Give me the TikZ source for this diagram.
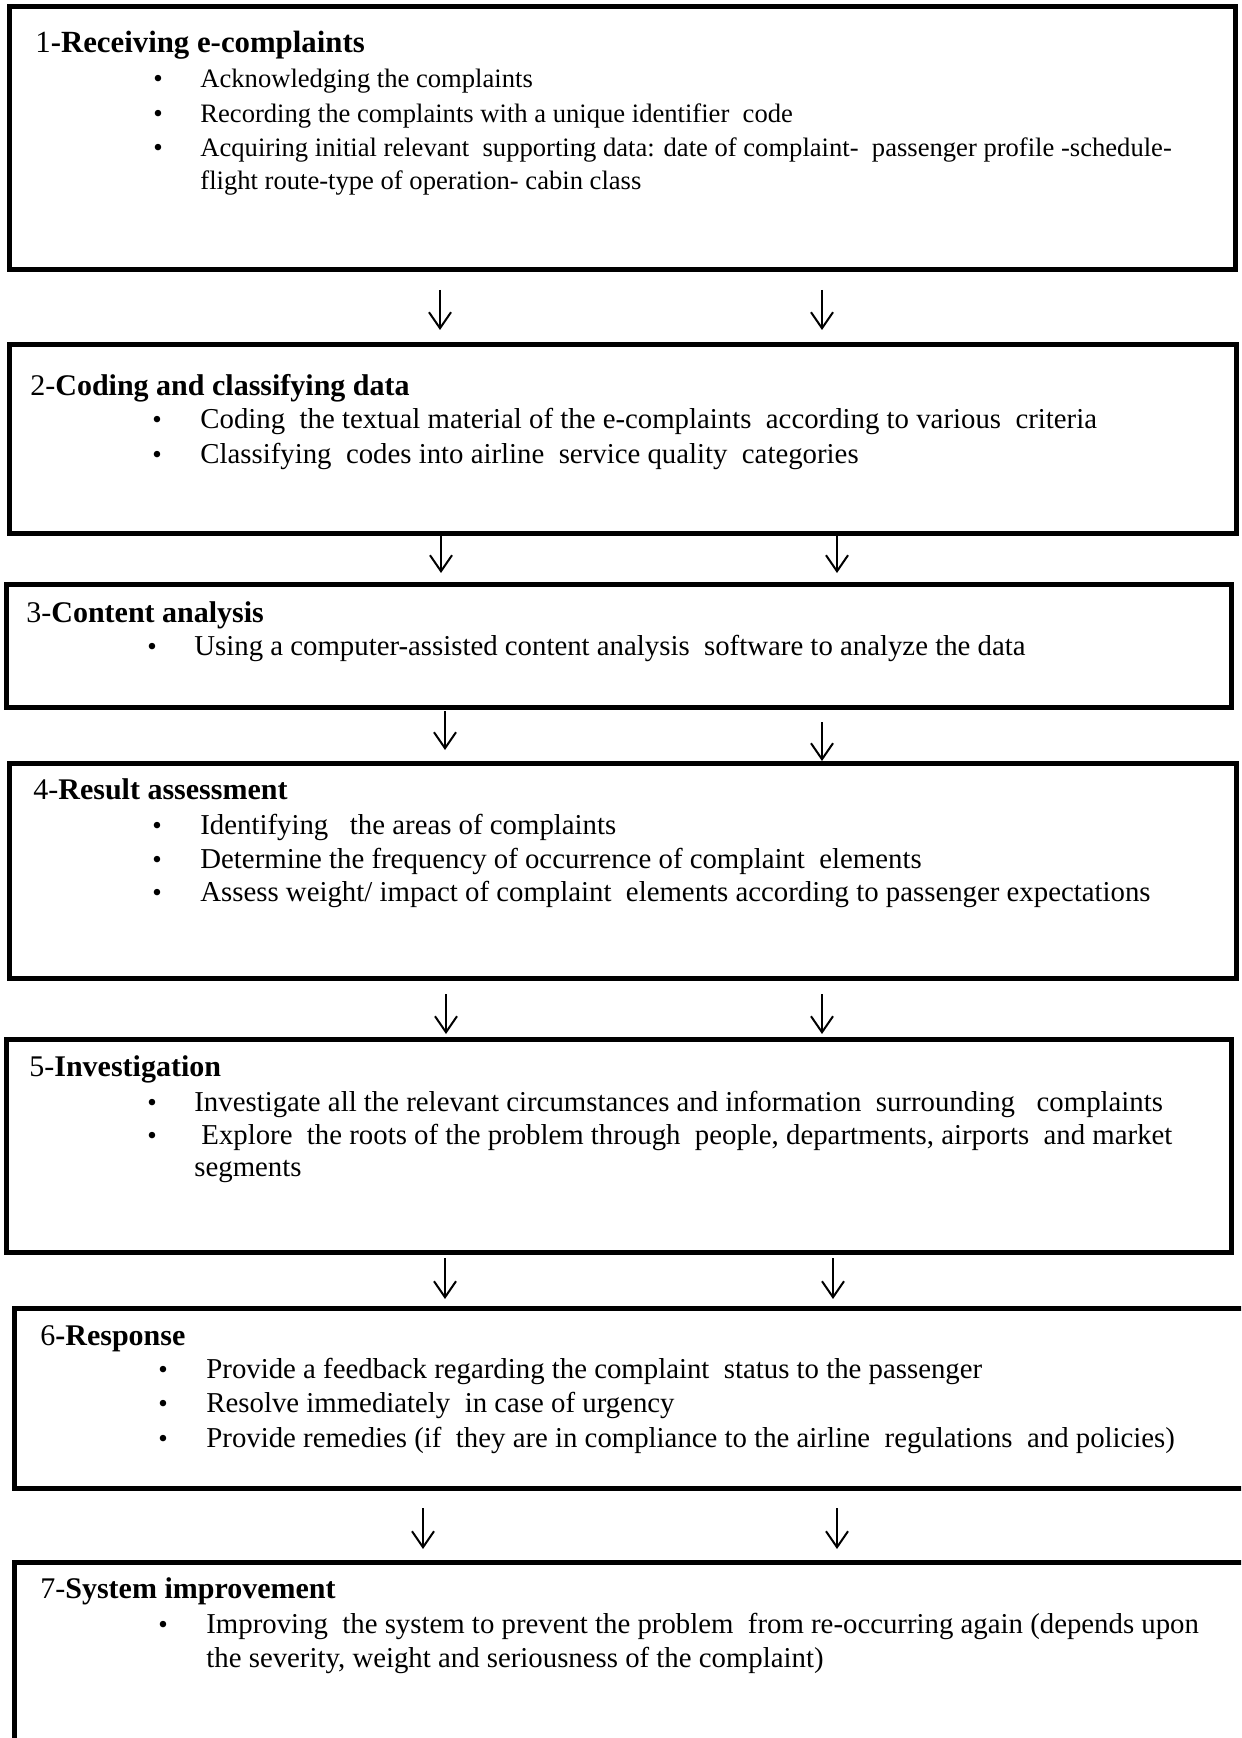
\documentclass[tikz,border=0pt]{standalone}
\usepackage{fontspec}
\setmainfont{Liberation Serif}
\usetikzlibrary{arrows.meta}
\tikzset{
  box/.style={draw, line width=2.5pt, anchor=north west, inner sep=0pt, outer sep=0pt},
  ttl/.style={anchor=base west, inner sep=0pt, font=\fontsize{15}{18}\selectfont},
  ttlA/.style={anchor=base west, inner sep=0pt, font=\fontsize{15.4}{18}\selectfont},
  txt/.style={anchor=base west, inner sep=0pt, font=\fontsize{14.4}{17}\selectfont},
  txtA/.style={anchor=base west, inner sep=0pt, font=\fontsize{13.3}{16}\selectfont},
  bul/.style={anchor=base west, inner sep=0pt, font=\fontsize{13.5}{16}\selectfont},
  arr/.style={-{Straight Barb[length=8pt,width=11pt]}, line width=1pt}
}
\begin{document}
\begin{tikzpicture}[x=0.5pt,y=-0.5pt]
\useasboundingbox (0,0) rectangle (1241,1738);
\clip (0,0) rectangle (1241,1738);
\fill[white] (0,0) rectangle (1241,1738);

% boxes
\node[box, minimum width=613pt, minimum height=131.5pt] (b1) at (9,7) {};
\node[box, minimum width=613.25pt, minimum height=94pt] (b2) at (9.5,345) {};
\node[box, minimum width=612.5pt, minimum height=61.5pt] (b3) at (6,584) {};
\node[box, minimum width=613.25pt, minimum height=107.5pt] (b4) at (9.5,763) {};
\node[box, minimum width=612.5pt, minimum height=106.5pt] (b5) at (6,1039) {};
\node[box, minimum width=618pt, minimum height=90pt] (b6) at (14,1308) {};
\node[box, minimum width=618pt, minimum height=99pt] (b7) at (14,1562) {};

% box 1
\node[ttlA] (h1) at (35,53) {1\textbf{-Receiving e-complaints}};
\node[bul] (p1a) at (153,88) {•};
\node[bul] (p1b) at (153,123) {•};
\node[bul] (p1c) at (153,157) {•};
\node[txtA] (t1a) at (200,88) {Acknowledging the complaints};
\node[txtA] (t1b) at (200,123) {Recording the complaints with a unique identifier\ \ code};
\node[txtA] (t1c) at (200,157) {Acquiring initial relevant\ \ supporting data: date of complaint-\ \ passenger profile -schedule-};
\node[txtA] (t1d) at (200,190) {flight route-type of operation- cabin class};

% box 2
\node[ttl] (h2) at (30,395) {2-\textbf{Coding and classifying data}};
\node[bul] (p2a) at (152,428) {•};
\node[bul] (p2b) at (152,463) {•};
\node[txt] (t2a) at (200,428) {Coding\ \ the textual material of the e-complaints\ \ according to various\ \ criteria};
\node[txt] (t2b) at (200,463) {Classifying\ \ codes into airline\ \ service quality\ \ categories};

% box 3
\node[ttl] (h3) at (26,622) {3-\textbf{Content analysis}};
\node[bul] (p3a) at (147,655) {•};
\node[txt] (t3a) at (194,655) {Using a computer-assisted content analysis\ \ software to analyze the data};

% box 4
\node[ttl] (h4) at (33,799) {4-\textbf{Result assessment}};
\node[bul] (p4a) at (152,834) {•};
\node[bul] (p4b) at (152,868) {•};
\node[bul] (p4c) at (152,901) {•};
\node[txt] (t4a) at (200,834) {Identifying\ \ \ the areas of complaints};
\node[txt] (t4b) at (200,868) {Determine the frequency of occurrence of complaint\ \ elements};
\node[txt] (t4c) at (200,901) {Assess weight/ impact of complaint\ \ elements according to passenger expectations};

% box 5
\node[ttl] (h5) at (29,1076) {5-\textbf{Investigation}};
\node[bul] (p5a) at (147,1111) {•};
\node[bul] (p5b) at (147,1144) {•};
\node[txt] (t5a) at (194,1111) {Investigate all the relevant circumstances and information\ \ surrounding\ \ \ complaints};
\node[txt] (t5b) at (201,1144) {Explore\ \ the roots of the problem through\ \ people, departments, airports\ \ and market};
\node[txt] (t5c) at (194,1176) {segments};

% box 6
\node[ttl] (h6) at (40,1345) {6\textbf{-Response}};
\node[bul] (p6a) at (158,1378) {•};
\node[bul] (p6b) at (158,1412) {•};
\node[bul] (p6c) at (158,1447) {•};
\node[txt] (t6a) at (206,1378) {Provide a feedback regarding the complaint\ \ status to the passenger};
\node[txt] (t6b) at (206,1412) {Resolve immediately\ \ in case of urgency};
\node[txt] (t6c) at (206,1447) {Provide remedies (if\ \ they are in compliance to the airline\ \ regulations\ \ and policies)};

% box 7
\node[ttl] (h7) at (40,1598) {7-\textbf{System improvement}};
\node[bul] (p7a) at (158,1633) {•};
\node[txt] (t7a) at (206,1633) {Improving\ \ the system to prevent the problem\ \ from re-occurring again (depends upon};
\node[txt] (t7b) at (206,1667) {the severity, weight and seriousness of the complaint)};

% arrow end points
\coordinate (a1ls) at (440,290); \coordinate (a1le) at (440,330);
\coordinate (a1rs) at (822,290); \coordinate (a1re) at (822,330);
\coordinate (a2ls) at (441,536); \coordinate (a2le) at (441,573);
\coordinate (a2rs) at (837,536); \coordinate (a2re) at (837,573);
\coordinate (a3ls) at (445,711); \coordinate (a3le) at (445,750);
\coordinate (a3rs) at (822,722); \coordinate (a3re) at (822,761);
\coordinate (a4ls) at (446,994); \coordinate (a4le) at (446,1034);
\coordinate (a4rs) at (822,994); \coordinate (a4re) at (822,1034);
\coordinate (a5ls) at (445,1258); \coordinate (a5le) at (445,1299);
\coordinate (a5rs) at (833,1258); \coordinate (a5re) at (833,1299);
\coordinate (a6ls) at (423,1508); \coordinate (a6le) at (423,1549);
\coordinate (a6rs) at (837,1508); \coordinate (a6re) at (837,1549);

\foreach \i in {1,...,6}{
  \draw[arr] (a\i ls) -- (a\i le);
  \draw[arr] (a\i rs) -- (a\i re);
}
\end{tikzpicture}
\end{document}
